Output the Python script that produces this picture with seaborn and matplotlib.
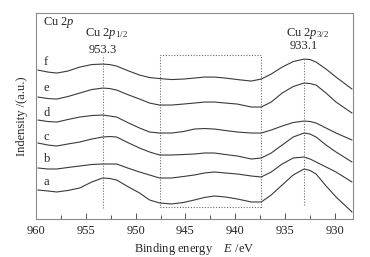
import numpy as np
import pandas as pd
import seaborn as sns
import matplotlib.pyplot as plt
from matplotlib.patches import Rectangle

# =========================
# DATA
# =========================
energy = [959.8, 958.8, 957.9, 956.8, 955.6, 954.4, 953.3, 952.6, 951.9, 950.8,
          949.6, 948.6, 947.6, 946.4, 945.2, 944.1, 943.1, 942.1, 941.0, 939.8,
          938.4, 937.4, 936.4, 935.3, 934.2, 933.1, 932.5, 931.9, 930.9, 929.9, 928.3]

curve_a = [29, 28, 27, 28.5, 31, 37, 41, 40.5, 39, 32.5, 26, 19, 16, 15, 16.5, 19,
           21.5, 23, 22, 20, 17, 17, 24, 34, 44, 50, 48.5, 45, 33, 22, 7]
curve_b = [51, 50, 50, 51.5, 53, 54.5, 55, 55, 55, 51, 47, 44, 41, 41, 42.5, 44,
           46, 47, 46, 45, 43, 42, 47, 55, 61, 62, 60, 57, 52, 47, 37]
curve_c = [76, 74, 73, 75, 77, 80, 82, 82.5, 82, 76.5, 71, 67, 64, 64, 64.5, 65,
           66, 66, 64.5, 63, 60, 61, 66, 74, 82, 86, 85, 82, 74, 67, 57]
curve_d = [99, 97.5, 97, 99.5, 102, 103.5, 104, 103, 102, 96.5, 91, 87, 86, 86, 87.5, 90,
           90.5, 90, 88.5, 87, 86, 86, 89, 93, 96.5, 98, 97.5, 96, 91, 86, 79]
curve_e = [122, 120.5, 120, 122.5, 126, 129.5, 131, 130.5, 129, 124.5, 120, 116, 114, 114, 115, 116,
           117, 117, 116, 115, 112, 112, 117, 126, 132.5, 136, 135.5, 134, 126, 117, 106]
curve_f = [149, 147, 146, 148, 152, 154.5, 155, 154.5, 153, 148.5, 144, 141.5, 140.5, 139.5, 140, 141,
           142, 142, 141, 139.5, 138, 140, 145, 152, 157.5, 160, 159.5, 157, 150, 142, 130]

sample_labels = ["a", "b", "c", "d", "e", "f"]
label_y = [37, 60, 82, 106, 131, 157]

peaks = [953.3, 933.1]
peak_names = ["Cu 2$p_{1/2}$", "Cu 2$p_{3/2}$"]

box_x = [947.6, 937.4]

curves = [curve_a, curve_b, curve_c, curve_d, curve_e, curve_f]
df = pd.concat(
    [pd.DataFrame({"E": energy, "I": c, "sample": s}) for c, s in zip(curves, sample_labels)],
    ignore_index=True,
)

# =========================
# VISUAL SETTINGS
# =========================
sns.set_style("white")
plt.rcParams["font.family"] = ["Liberation Serif", "DejaVu Serif"]
plt.rcParams["mathtext.fontset"] = "custom"
plt.rcParams["mathtext.rm"] = "Liberation Serif"
plt.rcParams["mathtext.it"] = "Liberation Serif:italic"
line_col = "#3a3a3a"
dot_col = "#6a6a6a"
fs = 9

# =========================
# PLOT
# =========================
fig = plt.figure(figsize=(3.7, 2.57), dpi=100)
ax = fig.add_axes([0.097, 0.148, 0.857, 0.801])

sns.lineplot(data=df, x="E", y="I", units="sample", estimator=None,
             color=line_col, lw=0.8, ax=ax, legend=False)

# dotted peak markers and region box
ax.plot([peaks[0]] * 2, [11, 164], color=dot_col, lw=0.8, ls=(0, (1, 1.5)))
ax.plot([peaks[1]] * 2, [14, 159], color=dot_col, lw=0.8, ls=(0, (1, 1.5)))
ax.add_patch(Rectangle((box_x[1], 12), box_x[0] - box_x[1], 152, fill=False,
                       edgecolor=dot_col, lw=0.8, ls=(0, (1, 1.5))))

# texts
ax.text(959.3, 197, "Cu 2$p$", fontsize=fs, ha="left", va="center")
ax.text(952.9, 186, peak_names[0], fontsize=fs, ha="center", va="center")
ax.text(953.3, 169, f"{peaks[0]:.1f}", fontsize=fs, ha="center", va="center")
ax.text(932.8, 186, peak_names[1], fontsize=fs, ha="center", va="center")
ax.text(933.1, 173, f"{peaks[1]:.1f}", fontsize=fs, ha="center", va="center")
for s, y in zip(sample_labels, label_y):
    ax.text(959.2, y, s, fontsize=fs, ha="left", va="center")

ax.set_xlim(960, 928.2)
ax.set_ylim(0, 206)
ax.set_xticks([960, 955, 950, 945, 940, 935, 930])
ax.set_xticks(np.arange(957.5, 928, -5), minor=True)
ax.set_yticks([])
ax.tick_params(axis="x", which="both", direction="in", bottom=True, top=False,
               labelsize=fs, pad=4, color="#555555")
ax.tick_params(axis="x", which="major", length=4, width=0.7)
ax.tick_params(axis="x", which="minor", length=3, width=0.7)
for sp in ax.spines.values():
    sp.set_color("#8a8a8a")
    sp.set_linewidth(0.8)

ax.set_xlabel("Binding energy    $E$ /eV", fontsize=fs, labelpad=3)
ax.set_ylabel("Indensity /(a.u.)", fontsize=fs, labelpad=6)

fig.savefig("out.png", dpi=100)
